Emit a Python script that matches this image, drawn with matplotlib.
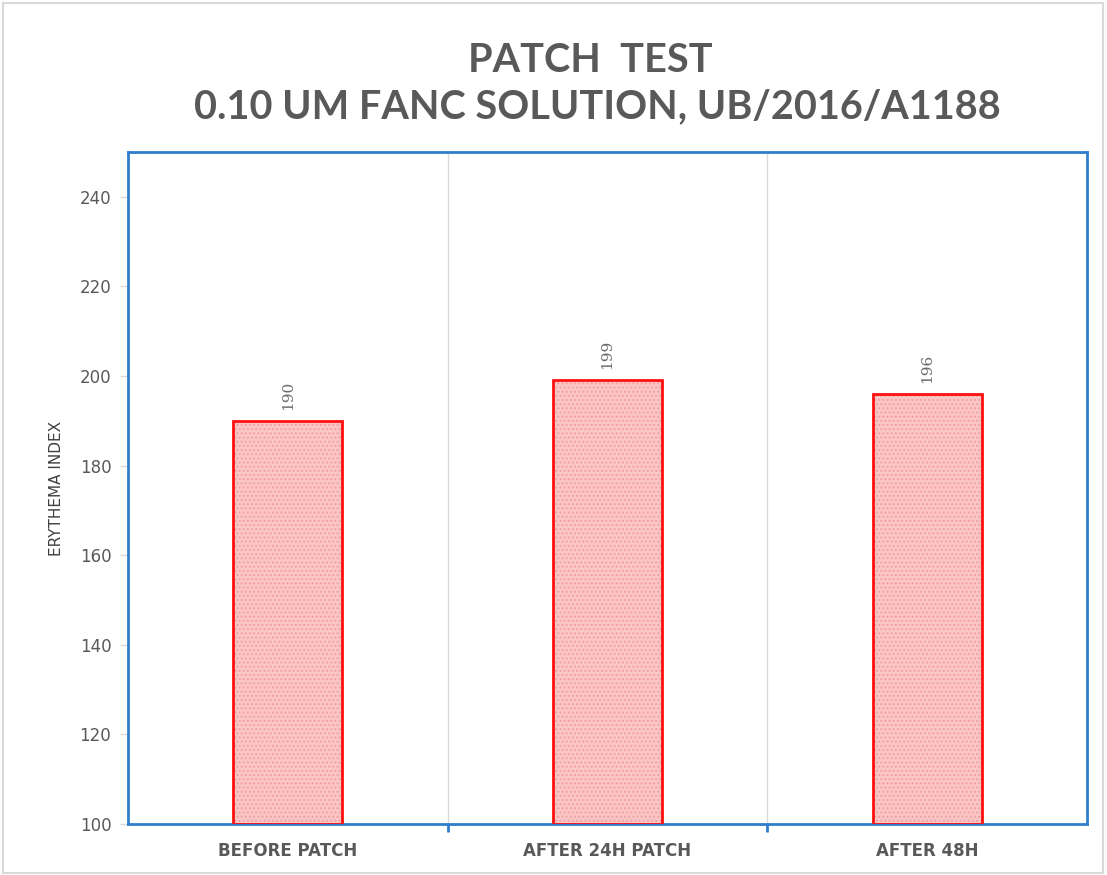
import matplotlib
matplotlib.use("Agg")
import matplotlib.pyplot as plt
from matplotlib.patches import Rectangle

categories = ["BEFORE PATCH", "AFTER 24H PATCH", "AFTER 48H"]
values = [190, 199, 196]
yticks = [100, 120, 140, 160, 180, 200, 220, 240]
title_lines = ["PATCH  TEST", "0.10 UM FANC SOLUTION, UB/2016/A1188"]
ylabel = "ERYTHEMA INDEX"

fig = plt.figure(figsize=(11.07, 8.75), dpi=100)
ax = fig.add_axes([128/1107, 1-824/875, (1087-128)/1107, (824-152)/875])

blue = "#2f7fcf"
x = list(range(len(categories)))
ax.bar(x, [v - 100 for v in values], bottom=100, width=0.34,
       color="#fbc6c6", edgecolor="#f4a0a0", linewidth=0, hatch="....", zorder=2)
ax.bar(x, [v - 100 for v in values], bottom=100, width=0.34,
       fill=False, edgecolor="#ff1010", linewidth=2, zorder=3)

for xi, v in zip(x, values):
    ax.text(xi, v + 2.5, str(v), rotation=90, ha="center", va="bottom",
            fontsize=11, color="#6b6b6b", family="DejaVu Serif")

ax.set_xlim(-0.5, 2.5)
ax.set_ylim(100, 250)
ax.set_yticks(yticks)
ax.set_yticklabels([str(t) for t in yticks], fontsize=12, color="#595959")
ax.tick_params(axis="y", length=6, color="#d9d9d9", width=1, pad=6)

ax.set_xticks([0.5, 1.5], minor=False)
ax.set_xticklabels(["", ""])
ax.tick_params(axis="x", which="major", length=6, color=blue, width=2, direction="out")
ax.set_xticks(x, minor=True)
ax.set_xticklabels(categories, minor=True, fontsize=12, color="#595959", fontweight="bold")
ax.tick_params(axis="x", which="minor", length=0, pad=13)

for b in [0.5, 1.5]:
    ax.axvline(b, color="#d9d9d9", linewidth=1, zorder=1)

for s in ax.spines.values():
    s.set_color(blue)
    s.set_linewidth(2)

fig.text(57/1107, 1-488/875, ylabel, rotation=90, ha="center", va="center",
         fontsize=11, color="#404040")

fig.text(590/1107, 1-60/875, title_lines[0], ha="center", va="center",
         fontsize=28.5, color="#595959", fontweight="bold",
         family=["Lato", "DejaVu Sans"])
fig.text(597/1107, 1-107/875, title_lines[1], ha="center", va="center",
         fontsize=28.5, color="#595959", fontweight="bold",
         family=["Lato", "DejaVu Sans"])

fig.patches.append(Rectangle((3/1107, 2/875), 1100/1107, 870/875, transform=fig.transFigure,
                             fill=False, edgecolor="#d9d9d9", linewidth=1.5))

fig.savefig("out.png", dpi=100)
